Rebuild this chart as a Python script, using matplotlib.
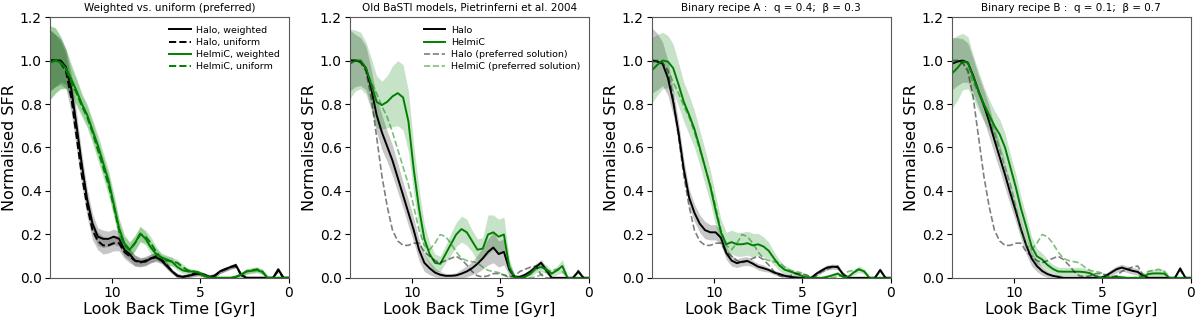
import numpy as np
import matplotlib.pyplot as plt

# look back time grid [Gyr]
t_gyr = [13.5, 13.2, 12.9, 12.6, 12.3, 12.0, 11.7, 11.4, 11.1, 10.8,
         10.5, 10.2, 9.9, 9.6, 9.3, 9.0, 8.7, 8.4, 8.1, 7.8,
         7.5, 7.2, 6.9, 6.6, 6.3, 6.0, 5.7, 5.4, 5.1, 4.8,
         4.5, 4.2, 3.9, 3.6, 3.3, 3.0, 2.7, 2.4, 2.1, 1.8,
         1.5, 1.2, 0.9, 0.6, 0.3, 0.0]

# panel 1: weighted vs uniform (uniform = preferred)
p1_halo_w = [1.00, 1.00, 1.00, 0.97, 0.87, 0.70, 0.52, 0.36, 0.25, 0.19,
             0.18, 0.18, 0.19, 0.18, 0.13, 0.11, 0.08, 0.075, 0.075, 0.09,
             0.095, 0.08, 0.055, 0.03, 0.01, 0.005, 0.01, 0.015, 0.02, 0.015,
             0.005, 0.01, 0.03, 0.04, 0.05, 0.06, 0.015, 0.0, 0.0, 0.0,
             0.0, 0.0, 0.0, 0.04, 0.0, 0.0]
p1_halo_u = [1.00, 1.00, 0.99, 0.95, 0.83, 0.65, 0.47, 0.33, 0.22, 0.17,
             0.15, 0.15, 0.16, 0.16, 0.12, 0.10, 0.08, 0.07, 0.08, 0.09,
             0.10, 0.085, 0.06, 0.03, 0.01, 0.005, 0.01, 0.02, 0.02, 0.015,
             0.005, 0.01, 0.03, 0.04, 0.05, 0.055, 0.015, 0.0, 0.0, 0.0,
             0.0, 0.0, 0.0, 0.035, 0.0, 0.0]
p1_helmi_w = [0.99, 1.00, 0.99, 0.965, 0.915, 0.86, 0.80, 0.75, 0.68, 0.61,
              0.53, 0.45, 0.34, 0.23, 0.16, 0.13, 0.16, 0.205, 0.18, 0.14,
              0.11, 0.095, 0.085, 0.075, 0.05, 0.035, 0.03, 0.03, 0.025, 0.012,
              0.003, 0.0, 0.0, 0.0, 0.0, 0.005, 0.015, 0.03, 0.033, 0.036,
              0.028, 0.0, 0.0, 0.0, 0.0, 0.0]
p1_helmi_u = [0.99, 1.00, 0.99, 0.96, 0.90, 0.85, 0.79, 0.74, 0.67, 0.59,
              0.51, 0.43, 0.33, 0.22, 0.15, 0.13, 0.16, 0.20, 0.19, 0.16,
              0.12, 0.09, 0.08, 0.075, 0.07, 0.05, 0.035, 0.03, 0.025, 0.012,
              0.003, 0.0, 0.0, 0.0, 0.0, 0.005, 0.015, 0.03, 0.035, 0.04,
              0.03, 0.0, 0.0, 0.0, 0.0, 0.0]
p1_halo_err = [0.14, 0.12, 0.10, 0.08, 0.07, 0.06, 0.05, 0.05, 0.045, 0.04,
               0.04, 0.035, 0.035, 0.035, 0.03, 0.03, 0.025, 0.02, 0.02, 0.02,
               0.02, 0.015, 0.015, 0.01, 0.01, 0.01, 0.01, 0.01, 0.01, 0.01,
               0.01, 0.01, 0.01, 0.01, 0.01, 0.01, 0.01, 0.01, 0.01, 0.01,
               0.01, 0.01, 0.01, 0.01, 0.01, 0.01]
p1_helmi_err = [0.17, 0.15, 0.12, 0.09, 0.07, 0.06, 0.05, 0.05, 0.05, 0.05,
                0.05, 0.05, 0.05, 0.045, 0.04, 0.035, 0.035, 0.035, 0.03, 0.03,
                0.025, 0.02, 0.02, 0.02, 0.015, 0.015, 0.01, 0.01, 0.01, 0.01,
                0.01, 0.01, 0.01, 0.01, 0.01, 0.01, 0.01, 0.012, 0.012, 0.012,
                0.012, 0.01, 0.01, 0.01, 0.01, 0.01]

# panel 2: old BaSTI models
p2_halo = [1.00, 1.00, 0.995, 0.965, 0.87, 0.75, 0.67, 0.605, 0.54, 0.46,
           0.38, 0.30, 0.22, 0.13, 0.07, 0.045, 0.025, 0.015, 0.01, 0.01,
           0.012, 0.02, 0.03, 0.045, 0.065, 0.09, 0.12, 0.14, 0.11, 0.12,
           0.04, 0.005, 0.005, 0.015, 0.03, 0.05, 0.07, 0.035, 0.0, 0.0,
           0.0, 0.0, 0.0, 0.03, 0.0, 0.0]
p2_halo_err = [0.14, 0.12, 0.11, 0.10, 0.09, 0.08, 0.08, 0.07, 0.07, 0.065,
               0.06, 0.06, 0.055, 0.05, 0.04, 0.03, 0.02, 0.015, 0.01, 0.01,
               0.012, 0.02, 0.025, 0.03, 0.04, 0.05, 0.06, 0.07, 0.06, 0.06,
               0.03, 0.01, 0.01, 0.01, 0.015, 0.015, 0.015, 0.015, 0.01, 0.01,
               0.01, 0.01, 0.01, 0.01, 0.01, 0.01]
p2_helmi = [0.985, 1.00, 1.00, 0.965, 0.89, 0.81, 0.795, 0.81, 0.835, 0.85,
            0.83, 0.72, 0.50, 0.32, 0.18, 0.11, 0.07, 0.065, 0.11, 0.155,
            0.20, 0.225, 0.21, 0.17, 0.13, 0.135, 0.20, 0.21, 0.19, 0.20,
            0.05, 0.005, 0.0, 0.005, 0.02, 0.045, 0.05, 0.04, 0.02, 0.035,
            0.055, 0.0, 0.0, 0.0, 0.0, 0.0]
p2_helmi_err = [0.16, 0.14, 0.13, 0.12, 0.12, 0.12, 0.11, 0.12, 0.14, 0.15,
                0.15, 0.14, 0.11, 0.09, 0.07, 0.05, 0.04, 0.035, 0.04, 0.05,
                0.055, 0.06, 0.06, 0.05, 0.05, 0.05, 0.09, 0.08, 0.08, 0.08,
                0.04, 0.01, 0.01, 0.01, 0.015, 0.02, 0.02, 0.02, 0.015, 0.02,
                0.03, 0.01, 0.01, 0.01, 0.01, 0.01]

# panel 3: binary recipe A
p3_halo = [1.00, 0.995, 0.985, 0.92, 0.81, 0.67, 0.50, 0.37, 0.30, 0.25,
           0.22, 0.21, 0.21, 0.185, 0.115, 0.08, 0.068, 0.075, 0.078, 0.066,
           0.052, 0.045, 0.037, 0.025, 0.018, 0.01, 0.005, 0.003, 0.0, 0.0,
           0.0, 0.02, 0.035, 0.048, 0.052, 0.05, 0.018, 0.0, 0.0, 0.0,
           0.0, 0.0, 0.0, 0.037, 0.0, 0.0]
p3_halo_err = [0.15, 0.13, 0.10, 0.08, 0.06, 0.05, 0.045, 0.04, 0.04, 0.04,
               0.04, 0.035, 0.035, 0.03, 0.03, 0.025, 0.02, 0.02, 0.02, 0.015,
               0.015, 0.015, 0.01, 0.01, 0.01, 0.01, 0.01, 0.01, 0.01, 0.01,
               0.01, 0.01, 0.012, 0.012, 0.012, 0.012, 0.01, 0.01, 0.01, 0.01,
               0.01, 0.01, 0.01, 0.01, 0.01, 0.01]
p3_helmi = [0.955, 0.98, 1.00, 0.995, 0.965, 0.89, 0.81, 0.75, 0.685, 0.60,
            0.51, 0.42, 0.31, 0.21, 0.155, 0.165, 0.155, 0.155, 0.16, 0.15,
            0.155, 0.145, 0.125, 0.09, 0.058, 0.038, 0.03, 0.022, 0.012, 0.003,
            0.0, 0.0, 0.0, 0.005, 0.012, 0.02, 0.005, 0.005, 0.025, 0.04,
            0.03, 0.0, 0.0, 0.0, 0.0, 0.0]
p3_helmi_err = [0.15, 0.14, 0.13, 0.12, 0.11, 0.10, 0.09, 0.09, 0.085, 0.08,
                0.08, 0.075, 0.07, 0.06, 0.055, 0.055, 0.055, 0.055, 0.055, 0.055,
                0.05, 0.045, 0.04, 0.03, 0.025, 0.02, 0.015, 0.01, 0.01, 0.01,
                0.01, 0.01, 0.01, 0.01, 0.01, 0.01, 0.01, 0.01, 0.012, 0.015,
                0.012, 0.01, 0.01, 0.01, 0.01, 0.01]

# panel 4: binary recipe B
p4_halo = [0.985, 0.995, 1.00, 0.99, 0.93, 0.86, 0.795, 0.72, 0.635, 0.555,
           0.475, 0.39, 0.31, 0.225, 0.15, 0.09, 0.055, 0.032, 0.018, 0.01,
           0.005, 0.0, 0.0, 0.0, 0.0, 0.0, 0.0, 0.0, 0.0, 0.01,
           0.025, 0.04, 0.048, 0.04, 0.033, 0.028, 0.01, 0.0, 0.0, 0.0,
           0.0, 0.0, 0.0, 0.044, 0.0, 0.0]
p4_halo_err = [0.12, 0.11, 0.10, 0.09, 0.08, 0.07, 0.07, 0.07, 0.065, 0.06,
               0.06, 0.055, 0.05, 0.045, 0.04, 0.035, 0.025, 0.02, 0.015, 0.01,
               0.01, 0.01, 0.01, 0.01, 0.01, 0.01, 0.01, 0.01, 0.01, 0.012,
               0.015, 0.015, 0.015, 0.015, 0.015, 0.015, 0.01, 0.01, 0.01, 0.01,
               0.01, 0.01, 0.01, 0.01, 0.01, 0.01]
p4_helmi = [0.94, 0.965, 0.995, 0.99, 0.925, 0.86, 0.80, 0.75, 0.70, 0.66,
            0.60, 0.51, 0.42, 0.32, 0.235, 0.145, 0.10, 0.085, 0.06, 0.042,
            0.03, 0.029, 0.029, 0.029, 0.029, 0.027, 0.022, 0.01, 0.002, 0.0,
            0.0, 0.005, 0.003, 0.0, 0.0, 0.0, 0.005, 0.018, 0.021, 0.021,
            0.02, 0.0, 0.0, 0.0, 0.0, 0.0]
p4_helmi_err = [0.16, 0.15, 0.13, 0.12, 0.10, 0.09, 0.08, 0.07, 0.07, 0.07,
                0.065, 0.06, 0.06, 0.055, 0.05, 0.045, 0.035, 0.03, 0.025, 0.02,
                0.02, 0.02, 0.02, 0.02, 0.02, 0.018, 0.015, 0.01, 0.01, 0.01,
                0.01, 0.01, 0.01, 0.01, 0.01, 0.01, 0.01, 0.02, 0.02, 0.02,
                0.02, 0.01, 0.01, 0.01, 0.01, 0.01]

titles = ['Weighted vs. uniform (preferred)',
          'Old BaSTI models, Pietrinferni et al. 2004',
          'Binary recipe A :  q = 0.4;  \u03b2 = 0.3',
          'Binary recipe B :  q = 0.1;  \u03b2 = 0.7']

GREEN = 'green'


def band(ax, y, err, color, alpha=0.22):
    y = np.asarray(y)
    err = np.asarray(err)
    ax.fill_between(t_gyr, np.clip(y - err, 0, None), y + err,
                    color=color, alpha=alpha, lw=0)


def style_axes(ax, title):
    ax.set_xlim(13.5, 0)
    ax.set_ylim(0, 1.2)
    ax.set_xticks([10, 5, 0])
    ax.set_yticks([0.0, 0.2, 0.4, 0.6, 0.8, 1.0, 1.2])
    ax.tick_params(labelsize=10, length=3.5, pad=2.5)
    ax.set_xlabel('Look Back Time [Gyr]', fontsize=11.5, labelpad=1)
    ax.set_ylabel('Normalised SFR', fontsize=11.5, labelpad=2)
    ax.set_title(title, fontsize=7.5, pad=4)
    for sp in ax.spines.values():
        sp.set_color('0.35')


fig = plt.figure(figsize=(12, 3.21), dpi=100)
lefts = [0.0417, 0.2917, 0.5433, 0.7933]
axes = [fig.add_axes([l, 0.134, 0.199, 0.813]) for l in lefts]

# panel 1
ax = axes[0]
band(ax, p1_halo_w, p1_halo_err, 'k')
band(ax, p1_halo_u, p1_halo_err, 'k')
band(ax, p1_helmi_w, p1_helmi_err, GREEN)
band(ax, p1_helmi_u, p1_helmi_err, GREEN)
ax.plot(t_gyr, p1_halo_w, color='k', lw=1.4, label='Halo, weighted')
ax.plot(t_gyr, p1_halo_u, color='k', lw=1.4, ls='--', label='Halo, uniform')
ax.plot(t_gyr, p1_helmi_w, color=GREEN, lw=1.4, label='HelmiC, weighted')
ax.plot(t_gyr, p1_helmi_u, color=GREEN, lw=1.4, ls='--', label='HelmiC, uniform')
style_axes(ax, titles[0])
ax.legend(loc='upper right', frameon=False, fontsize=6.8, labelspacing=0.35,
          handlelength=2.3, handletextpad=0.6)

# panels 2-4
other = [(p2_halo, p2_halo_err, p2_helmi, p2_helmi_err),
         (p3_halo, p3_halo_err, p3_helmi, p3_helmi_err),
         (p4_halo, p4_halo_err, p4_helmi, p4_helmi_err)]
for i, (halo, halo_err, helmi, helmi_err) in enumerate(other, start=1):
    ax = axes[i]
    band(ax, halo, halo_err, 'k')
    band(ax, helmi, helmi_err, GREEN)
    ax.plot(t_gyr, halo, color='k', lw=1.4, label='Halo')
    ax.plot(t_gyr, helmi, color=GREEN, lw=1.4, label='HelmiC')
    ax.plot(t_gyr, p1_halo_u, color='k', alpha=0.5, lw=1.2, ls='--',
            label='Halo (preferred solution)')
    ax.plot(t_gyr, p1_helmi_u, color=GREEN, alpha=0.5, lw=1.2, ls='--',
            label='HelmiC (preferred solution)')
    style_axes(ax, titles[i])
    if i == 1:
        ax.legend(loc='upper right', frameon=False, fontsize=6.8,
                  labelspacing=0.35, handlelength=2.3, handletextpad=0.6)

fig.savefig('out.png', dpi=100)
